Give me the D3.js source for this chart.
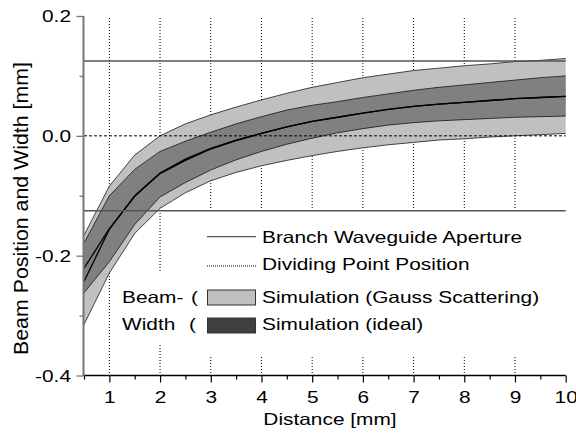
<!DOCTYPE html>
<html><head><meta charset="utf-8">
<script src="https://cdn.jsdelivr.net/npm/d3@7"></script>
<style>body{margin:0;background:#fff}svg{display:block}text{font-family:"Liberation Sans",Arial,sans-serif;fill:#000}</style>
</head><body>
<svg id="c" width="576" height="436"></svg>
<script>
// ---- data ----
const distance    = [0.5, 1, 1.5, 2, 2.5, 3, 3.5, 4, 4.5, 5, 5.5, 6, 6.5, 7, 7.5, 8, 8.5, 9, 9.5, 10];
const gaussUpper  = [-0.166,-0.084,-0.032, 0.000, 0.020, 0.035, 0.048, 0.060, 0.071, 0.081, 0.089, 0.097, 0.103, 0.109, 0.113, 0.117, 0.120, 0.124, 0.126, 0.129];
const gaussLower  = [-0.315,-0.229,-0.163,-0.121,-0.095,-0.075,-0.061,-0.050,-0.041,-0.033,-0.026,-0.020,-0.015,-0.011,-0.007,-0.005,-0.002, 0.000, 0.002, 0.004];
const gaussMean   = [-0.243,-0.156,-0.100,-0.062,-0.039,-0.021,-0.007, 0.004, 0.015, 0.024, 0.031, 0.038, 0.044, 0.049, 0.053, 0.056, 0.059, 0.062, 0.064, 0.066];
const idealUpper  = [-0.179,-0.100,-0.056,-0.026,-0.009, 0.006, 0.020, 0.032, 0.043, 0.051, 0.057, 0.064, 0.070, 0.076, 0.081, 0.085, 0.089, 0.093, 0.097, 0.100];
const idealLower  = [-0.262,-0.210,-0.148,-0.102,-0.078,-0.057,-0.040,-0.026,-0.014,-0.004, 0.005, 0.012, 0.018, 0.022, 0.025, 0.027, 0.029, 0.031, 0.032, 0.033];
const idealMean   = [-0.221,-0.155,-0.101,-0.063,-0.041,-0.022,-0.008, 0.004, 0.015, 0.024, 0.031, 0.038, 0.044, 0.049, 0.053, 0.056, 0.059, 0.062, 0.064, 0.066];
const apertureEdges = [0.125, -0.125];
const dividingPoint = [0.0];
const gridDistances = [1, 2, 3, 4, 5, 6, 7, 8, 9];
const xMajorTicks = [1, 2, 3, 4, 5, 6, 7, 8, 9, 10];
const xTickLabels = ["1","2","3","4","5","6","7","8","9","10"];
const xMinorTicks = [0.5, 1.5, 2.5, 3.5, 4.5, 5.5, 6.5, 7.5, 8.5, 9.5];
const yMajorTicks = [-0.4, -0.2, 0.0, 0.2];
const yTickLabels = ["-0.4","-0.2","0.0","0.2"];
const yMinorTicks = [-0.3, -0.1, 0.1];
const legendLines = ["Branch Waveguide Aperture", "Dividing Point Position"];
const legendBands = ["Simulation (Gauss Scattering)", "Simulation (ideal)"];
const legendPrefix = ["Beam-", "Width"];
const xTitle = "Distance [mm]";
const yTitle = "Beam Position and Width [mm]";

// ---- layout ----
const SX = 1.28, FS = 16.3;
const svg = d3.select("#c");
const x = d3.scaleLinear().domain([0.5, 10]).range([84, 565.7]);
const y = d3.scaleLinear().domain([-0.4, 0.2]).range([375.5, 16]);
const pts = distance.map((d, i) => i);

function stext(g, tx, ty, str, anchor) {
  return g.append("text").attr("transform", `translate(${tx},${ty}) scale(${SX},1)`)
    .attr("text-anchor", anchor || "start").attr("font-size", FS).text(str);
}

// grid
svg.append("g").selectAll("line").data(gridDistances).join("line")
  .attr("x1", d => x(d)).attr("x2", d => x(d)).attr("y1", 18).attr("y2", 375)
  .attr("stroke", "#000").attr("stroke-width", 1).attr("stroke-dasharray", "1,2");

// bands
const area = (lo, hi) => d3.area().x(i => x(distance[i])).y0(i => y(lo[i])).y1(i => y(hi[i]));
const line = arr => d3.line().x(i => x(distance[i])).y(i => y(arr[i]));
svg.append("path").datum(pts).attr("d", area(gaussLower, gaussUpper)).attr("fill", "#c0c0c0");
svg.append("path").datum(pts).attr("d", area(idealLower, idealUpper)).attr("fill", "#808080");
[gaussUpper, gaussLower, idealUpper, idealLower].forEach(a =>
  svg.append("path").datum(pts).attr("d", line(a)).attr("fill", "none").attr("stroke", "#000").attr("stroke-width", 0.7));
[gaussMean, idealMean].forEach(a =>
  svg.append("path").datum(pts).attr("d", line(a)).attr("fill", "none").attr("stroke", "#000").attr("stroke-width", 1.3));

// dividing point and aperture
svg.append("g").selectAll("line").data(dividingPoint).join("line")
  .attr("x1", x(0.5)).attr("x2", x(10)).attr("y1", d => y(d)).attr("y2", d => y(d))
  .attr("stroke", "#000").attr("stroke-width", 1).attr("stroke-dasharray", "3,2");
svg.append("g").selectAll("line").data(apertureEdges).join("line")
  .attr("x1", x(0.5)).attr("x2", x(10)).attr("y1", d => y(d)).attr("y2", d => y(d))
  .attr("stroke", "#555").attr("stroke-width", 1.5);

// legend
const lg = svg.append("g");
lg.append("rect").attr("x", 200).attr("y", 213).attr("width", 362).attr("height", 144).attr("fill", "#fff");
lg.append("rect").attr("x", 114).attr("y", 273).attr("width", 90).attr("height", 70).attr("fill", "#fff");
const rowBase = [243, 270, 303, 330];
lg.append("line").attr("x1", 207).attr("x2", 256).attr("y1", 236.7).attr("y2", 236.7).attr("stroke", "#555").attr("stroke-width", 1.3);
lg.append("line").attr("x1", 207).attr("x2", 256).attr("y1", 266).attr("y2", 266).attr("stroke", "#000").attr("stroke-width", 1).attr("stroke-dasharray", "1,1");
lg.append("rect").attr("x", 207.5).attr("y", 290).attr("width", 48).attr("height", 15).attr("fill", "#c0c0c0").attr("stroke", "#333").attr("stroke-width", 1);
lg.append("rect").attr("x", 207.5).attr("y", 318).attr("width", 48).attr("height", 15).attr("fill", "#404040").attr("stroke", "#333").attr("stroke-width", 1);
legendLines.forEach((t, i) => stext(lg, 262, rowBase[i], t));
legendBands.forEach((t, i) => stext(lg, 262, rowBase[i + 2], t));
legendPrefix.forEach((t, i) => { stext(lg, 122, rowBase[i + 2], t); stext(lg, i === 0 ? 191 : 189, rowBase[i + 2], "("); });

// axes
const xAxis = svg.append("g").attr("transform", "translate(0,375.5)");
xAxis.call(d3.axisBottom(x).tickValues(xMajorTicks).tickSize(7).tickFormat((d, i) => xTickLabels[i]));
xAxis.select(".domain").remove();
xAxis.selectAll("line").attr("stroke", "#000").attr("stroke-width", 1.2);
xAxis.selectAll("text").attr("y", null).attr("dy", null).attr("font-size", FS).attr("font-family", null)
  .attr("transform", `translate(0,27.5) scale(${SX},1)`);
const xMin = svg.append("g").attr("transform", "translate(0,375.5)");
xMin.call(d3.axisBottom(x).tickValues(xMinorTicks).tickSize(4).tickFormat(""));
xMin.select(".domain").remove();
xMin.selectAll("line").attr("stroke", "#000").attr("stroke-width", 1.2);
svg.append("line").attr("x1", x(0.5)).attr("x2", x(10)).attr("y1", 375.5).attr("y2", 375.5).attr("stroke", "#000").attr("stroke-width", 1.5);

const yAxis = svg.append("g").attr("transform", "translate(83.5,0)");
yAxis.call(d3.axisLeft(y).tickValues(yMajorTicks).tickSize(7).tickFormat((d, i) => yTickLabels[i]));
yAxis.select(".domain").remove();
yAxis.selectAll("line").attr("stroke", "#777").attr("stroke-width", 1.3);
yAxis.selectAll("text").attr("x", null).attr("dy", "0.36em").attr("font-size", FS).attr("font-family", null)
  .attr("transform", `translate(-12.5,0) scale(${SX},1)`);
const yMin = svg.append("g").attr("transform", "translate(83.5,0)");
yMin.call(d3.axisLeft(y).tickValues(yMinorTicks).tickSize(4).tickFormat(""));
yMin.select(".domain").remove();
yMin.selectAll("line").attr("stroke", "#777").attr("stroke-width", 1.3);
svg.append("line").attr("x1", 83.5).attr("x2", 83.5).attr("y1", 16).attr("y2", 376).attr("stroke", "#777").attr("stroke-width", 2);

// titles
stext(svg, 330, 425, xTitle, "middle");
svg.append("text").attr("transform", "translate(28,208.5) rotate(-90)").attr("text-anchor", "middle")
  .attr("font-size", 20.5).attr("textLength", 293).attr("lengthAdjust", "spacingAndGlyphs").text(yTitle);
</script>
</body></html>
